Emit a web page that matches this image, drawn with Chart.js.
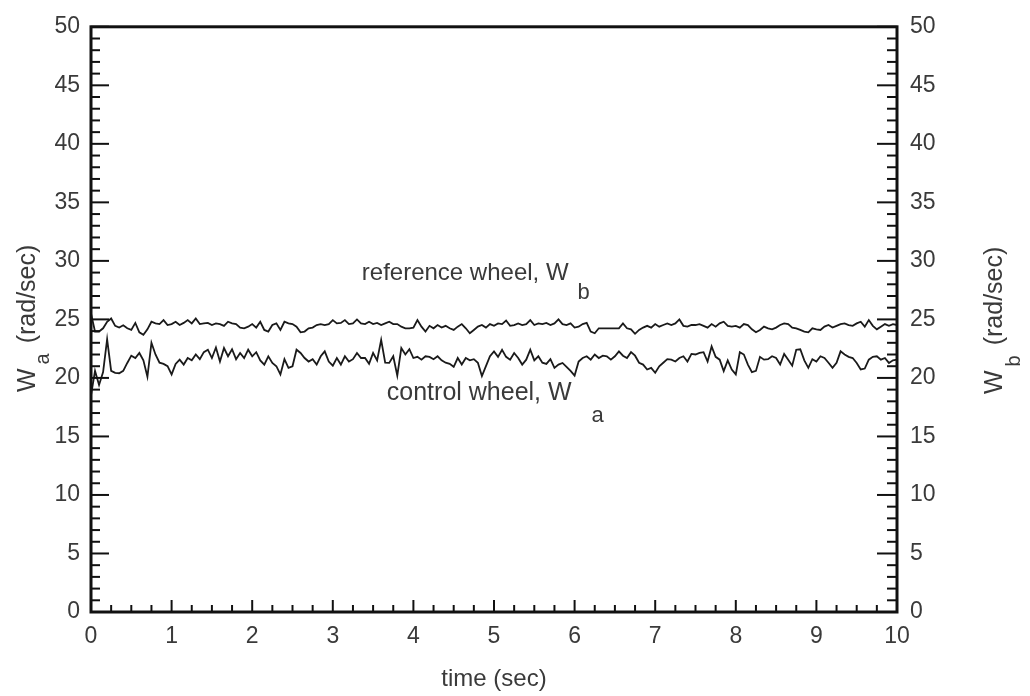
<!DOCTYPE html>
<html>
<head>
<meta charset="utf-8">
<script src="https://cdn.jsdelivr.net/npm/chart.js@4.4.1/dist/chart.umd.min.js"></script>
<style>
html, body { margin: 0; padding: 0; background: #fff; }
</style>
</head>
<body>
<canvas id="myChart" width="1030" height="696"></canvas>
<script>
// time axis (sec), sampled every 0.05 s
var timeSec = [
    0, 0.05, 0.1, 0.15, 0.2, 0.25, 0.3, 0.35, 0.4, 0.45, 0.5, 0.55, 0.6, 0.65, 0.7, 0.75, 0.8, 0.85, 0.9, 0.95,
    1, 1.05, 1.1, 1.15, 1.2, 1.25, 1.3, 1.35, 1.4, 1.45, 1.5, 1.55, 1.6, 1.65, 1.7, 1.75, 1.8, 1.85, 1.9, 1.95,
    2, 2.05, 2.1, 2.15, 2.2, 2.25, 2.3, 2.35, 2.4, 2.45, 2.5, 2.55, 2.6, 2.65, 2.7, 2.75, 2.8, 2.85, 2.9, 2.95,
    3, 3.05, 3.1, 3.15, 3.2, 3.25, 3.3, 3.35, 3.4, 3.45, 3.5, 3.55, 3.6, 3.65, 3.7, 3.75, 3.8, 3.85, 3.9, 3.95,
    4, 4.05, 4.1, 4.15, 4.2, 4.25, 4.3, 4.35, 4.4, 4.45, 4.5, 4.55, 4.6, 4.65, 4.7, 4.75, 4.8, 4.85, 4.9, 4.95,
    5, 5.05, 5.1, 5.15, 5.2, 5.25, 5.3, 5.35, 5.4, 5.45, 5.5, 5.55, 5.6, 5.65, 5.7, 5.75, 5.8, 5.85, 5.9, 5.95,
    6, 6.05, 6.1, 6.15, 6.2, 6.25, 6.3, 6.35, 6.4, 6.45, 6.5, 6.55, 6.6, 6.65, 6.7, 6.75, 6.8, 6.85, 6.9, 6.95,
    7, 7.05, 7.1, 7.15, 7.2, 7.25, 7.3, 7.35, 7.4, 7.45, 7.5, 7.55, 7.6, 7.65, 7.7, 7.75, 7.8, 7.85, 7.9, 7.95,
    8, 8.05, 8.1, 8.15, 8.2, 8.25, 8.3, 8.35, 8.4, 8.45, 8.5, 8.55, 8.6, 8.65, 8.7, 8.75, 8.8, 8.85, 8.9, 8.95,
    9, 9.05, 9.1, 9.15, 9.2, 9.25, 9.3, 9.35, 9.4, 9.45, 9.5, 9.55, 9.6, 9.65, 9.7, 9.75, 9.8, 9.85, 9.9, 9.95,
    10
];

// reference wheel W_b (rad/sec)
var referenceWheel = [
    25.5, 23.96, 23.96, 24.24, 24.8, 25.08, 24.45, 24.3, 24.5, 24.24, 24.1, 24.7, 23.9, 23.68, 24.15, 24.8, 24.66, 24.6, 24.94, 24.52,
    24.6, 24.8, 24.52, 24.7, 24.94, 24.66, 25.08, 24.6, 24.66, 24.7, 24.52, 24.66, 24.6, 24.45, 24.8, 24.66, 24.6, 24.3, 24.24, 24.38,
    24.6, 24.3, 24.8, 24.1, 23.96, 24.52, 24.66, 24.1, 24.8, 24.66, 24.6, 24.38, 23.9, 23.96, 24.24, 24.3, 24.52, 24.6, 24.52, 24.6,
    24.94, 24.66, 24.7, 24.94, 24.6, 24.66, 25.0, 24.66, 24.6, 24.8, 24.6, 24.7, 24.52, 24.66, 24.8, 24.6, 24.6, 24.38, 24.24, 24.24,
    24.3, 24.94, 24.38, 23.96, 24.45, 24.24, 24.52, 24.3, 24.45, 24.24, 24.1, 24.38, 24.6, 24.24, 23.82, 24.1, 24.38, 24.52, 24.3, 24.6,
    24.45, 24.66, 24.6, 24.9, 24.45, 24.52, 24.66, 24.52, 24.6, 24.94, 24.52, 24.66, 24.6, 24.7, 24.52, 24.66, 25.0, 24.6, 24.52, 24.66,
    24.3, 24.38, 24.6, 24.7, 23.96, 23.82, 24.24, 24.24, 24.24, 24.24, 24.24, 24.24, 24.66, 24.24, 24.15, 23.77, 24.1, 24.3, 24.45, 24.3,
    24.6, 24.38, 24.52, 24.66, 24.52, 24.66, 25.0, 24.45, 24.38, 24.52, 24.52, 24.6, 24.45, 24.3, 24.6, 24.38, 24.66, 24.8, 24.45, 24.38,
    24.45, 24.3, 24.6, 24.52, 24.15, 23.9, 24.1, 24.38, 24.24, 24.15, 24.3, 24.52, 24.66, 24.6, 24.3, 24.24, 24.1, 23.96, 23.9, 24.24,
    24.15, 24.1, 24.38, 24.52, 24.3, 24.45, 24.6, 24.66, 24.52, 24.45, 24.66, 24.8, 24.38, 24.94, 24.45, 24.15, 24.38, 24.6, 24.45, 24.6,
    24.52
];

// control wheel W_a (rad/sec)
var controlWheel = [
    18.5, 20.6, 19.4, 20.5, 23.3, 20.6, 20.44, 20.4, 20.6, 21.28, 21.9, 21.7, 22.13, 21.5, 20.1, 23.0, 22.0, 21.3, 21.2, 21.0,
    20.3, 21.2, 21.56, 21.14, 21.7, 21.5, 22.0, 21.6, 22.2, 22.41, 21.7, 22.6, 21.4, 22.55, 21.85, 22.45, 21.6, 22.13, 21.7, 22.41,
    21.85, 22.2, 21.5, 21.14, 21.85, 21.28, 21.0, 20.3, 21.6, 20.86, 21.0, 22.41, 22.13, 21.7, 21.4, 21.6, 21.14, 21.85, 22.27, 21.4,
    21.05, 21.7, 21.14, 21.85, 21.4, 21.6, 22.13, 21.7, 21.7, 21.2, 22.13, 21.5, 23.25, 21.3, 21.28, 21.85, 20.2, 22.55, 22.0, 22.45,
    21.7, 21.8, 21.56, 21.85, 21.8, 21.6, 21.85, 21.5, 21.3, 21.2, 20.95, 21.7, 21.14, 21.7, 21.5, 21.6, 21.3, 20.16, 21.0, 21.85,
    22.27, 21.8, 22.41, 21.8, 21.56, 22.13, 21.7, 21.14, 21.56, 22.41, 21.5, 21.85, 21.3, 21.2, 21.6, 20.86, 21.14, 21.28, 20.95, 20.6,
    20.2, 21.4, 21.7, 21.85, 21.56, 22.0, 21.7, 21.9, 21.85, 21.56, 21.85, 22.27, 21.9, 21.7, 22.2, 21.9, 21.3, 21.14, 20.72, 20.86,
    20.44, 21.0, 21.3, 21.6, 21.56, 21.4, 21.7, 21.85, 21.4, 22.05, 22.0, 22.13, 22.2, 21.4, 22.69, 21.8, 21.56, 20.58, 21.5, 20.72,
    20.3, 22.2, 22.0, 21.14, 20.5, 20.6, 21.8, 21.56, 21.6, 21.85, 21.7, 21.14, 22.05, 21.56, 21.05, 22.41, 22.45, 21.5, 20.86, 21.6,
    21.4, 21.85, 21.7, 21.3, 20.86, 21.3, 22.27, 22.0, 21.8, 21.7, 21.28, 20.72, 20.8, 21.56, 21.8, 21.85, 21.56, 21.7, 21.28, 21.5,
    21.56
];

var font = '"Liberation Sans", Arial, sans-serif';
var textColor = '#3a3a3a';

function toPoints(vals) {
    return vals.map(function(v, i) { return { x: timeSec[i], y: v }; });
}

function line(ctx, x1, y1, x2, y2) {
    ctx.beginPath();
    ctx.moveTo(x1, y1);
    ctx.lineTo(x2, y2);
    ctx.stroke();
}

// text with a subscript, drawn along the current x direction
function subText(ctx, main, sub, after, size, subSize, subGap, subDrop) {
    ctx.font = size + 'px ' + font;
    ctx.fillText(main, 0, 0);
    var w = ctx.measureText(main).width + subGap;
    ctx.font = subSize + 'px ' + font;
    ctx.fillText(sub, w, subDrop);
    w += ctx.measureText(sub).width + 10;
    if (after) {
        ctx.font = size + 'px ' + font;
        ctx.fillText(after, w, 0);
    }
}

var decorPlugin = {
    id: 'decor',
    afterDraw: function(chart) {
        var ctx = chart.ctx;
        var a = chart.chartArea;
        var sx = chart.scales.x, sy = chart.scales.y, sy2 = chart.scales.y2;
        var v, p;
        ctx.save();
        ctx.strokeStyle = '#111';
        ctx.lineWidth = 2;
        // x ticks, pointing in
        for (v = 0; v <= 40; v++) {
            p = sx.getPixelForValue(v / 4);
            line(ctx, p, a.bottom, p, a.bottom - (v % 4 === 0 ? 12 : 7));
        }
        // y ticks, left and right, pointing in
        for (v = 0; v <= 50; v++) {
            p = sy.getPixelForValue(v);
            line(ctx, a.left, p, a.left + (v % 5 === 0 ? 18 : 9), p);
            p = sy2.getPixelForValue(v);
            line(ctx, a.right, p, a.right - (v % 5 === 0 ? 20 : 10), p);
        }
        ctx.lineWidth = 3;
        ctx.strokeRect(a.left, a.top, a.right - a.left, a.bottom - a.top);

        ctx.fillStyle = textColor;
        ctx.textBaseline = 'alphabetic';
        ctx.textAlign = 'left';

        // x title
        ctx.font = '24px ' + font;
        ctx.textAlign = 'center';
        ctx.fillText('time (sec)', (a.left + a.right) / 2, 686);
        ctx.textAlign = 'left';

        // in-plot labels
        ctx.save();
        ctx.translate(sx.getPixelForValue(3.36), sy.getPixelForValue(28.4));
        subText(ctx, 'reference wheel, W', 'b', null, 24, 22, 9, 19);
        ctx.restore();
        ctx.save();
        ctx.translate(sx.getPixelForValue(3.67), sy.getPixelForValue(18.1));
        subText(ctx, 'control wheel, W', 'a', null, 25, 22, 20, 22);
        ctx.restore();

        // left y title
        ctx.save();
        ctx.translate(35, 392);
        ctx.rotate(-Math.PI / 2);
        subText(ctx, 'W', 'a', '(rad/sec)', 25, 20, 4, 14);
        ctx.restore();

        // right y title
        ctx.save();
        ctx.translate(1002, 394);
        ctx.rotate(-Math.PI / 2);
        subText(ctx, 'W', 'b', '(rad/sec)', 25, 20, 4, 18);
        ctx.restore();

        ctx.restore();
    }
};

var ctx = document.getElementById('myChart').getContext('2d');

var myChart = new Chart(ctx, {
    type: 'line',
    data: {
        datasets: [{
            label: 'reference wheel, Wb',
            data: toPoints(referenceWheel),
            yAxisID: 'y2',
            borderColor: '#1a1a1a',
            borderWidth: 1.8,
            pointRadius: 0,
            tension: 0
        }, {
            label: 'control wheel, Wa',
            data: toPoints(controlWheel),
            yAxisID: 'y',
            borderColor: '#1a1a1a',
            borderWidth: 1.8,
            pointRadius: 0,
            tension: 0
        }]
    },
    options: {
        responsive: false,
        animation: false,
        devicePixelRatio: 1,
        layout: {
            padding: { left: 0, right: 0, top: 20, bottom: 0 }
        },
        plugins: {
            legend: { display: false },
            tooltip: { enabled: false }
        },
        scales: {
            x: {
                type: 'linear',
                min: 0,
                max: 10,
                grid: { display: false, drawTicks: false },
                border: { display: false },
                ticks: { stepSize: 1, padding: 11, color: textColor, font: { family: font, size: 23 } },
                afterFit: function(s) { s.height = 84; }
            },
            y: {
                position: 'left',
                min: 0,
                max: 50,
                grid: { display: false, drawTicks: false },
                border: { display: false },
                ticks: { stepSize: 5, padding: 11, color: textColor, font: { family: font, size: 23 } },
                afterFit: function(s) { s.width = 91; }
            },
            y2: {
                position: 'right',
                min: 0,
                max: 50,
                grid: { display: false, drawTicks: false },
                border: { display: false },
                ticks: { stepSize: 5, padding: 13, color: textColor, font: { family: font, size: 23 } },
                afterFit: function(s) { s.width = 133; }
            }
        }
    },
    plugins: [decorPlugin]
});
</script>
</body>
</html>
